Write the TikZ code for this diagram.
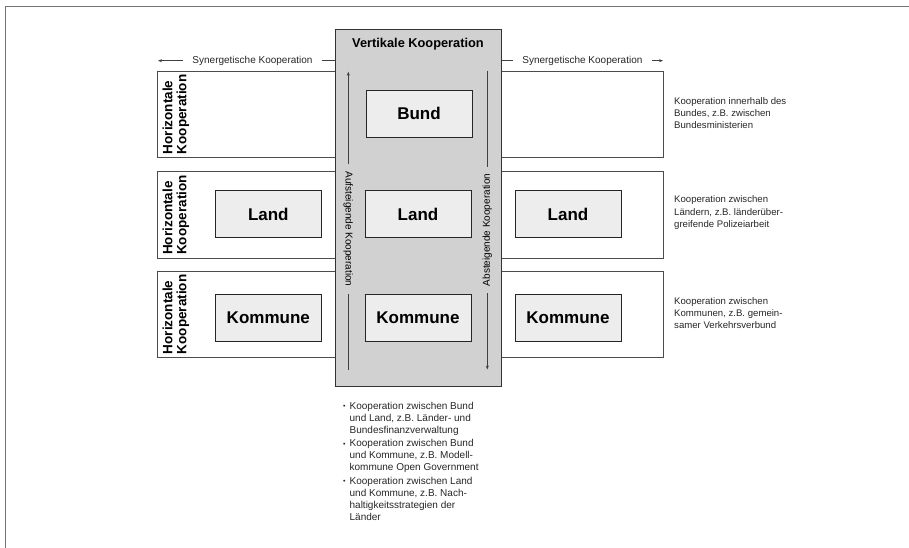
\documentclass[tikz,border=0pt]{standalone}
\usepackage{fontspec}
\setmainfont{Liberation Sans}
\usetikzlibrary{positioning,arrows.meta}
\usepackage{xcolor}
\definecolor{vertgray}{gray}{0.82}
\definecolor{boxgray}{gray}{0.93}
\definecolor{framegray}{gray}{0.45}
\newcommand{\smallbullet}{\raisebox{0.8pt}{\fontsize{7}{12}\selectfont\textbullet}}

\begin{document}
\begin{tikzpicture}[x=1pt,y=-1pt,
  rowbox/.style={draw=black!70, line width=0.8pt, minimum width=506pt, minimum height=86.7pt, inner sep=0pt},
  levelbox/.style={draw=black!85, fill=boxgray, line width=0.9pt, minimum width=106pt,
    minimum height=47pt, inner sep=0pt, font=\fontsize{17}{17}\selectfont\bfseries},
  horlabel/.style={rotate=90, align=left, inner sep=0pt, font=\fontsize{13.5}{14}\selectfont\bfseries},
  synlabel/.style={inner xsep=9pt, inner ysep=0pt, text=black!85, font=\fontsize{10}{12}\selectfont},
  flowlabel/.style={inner xsep=7pt, inner ysep=0pt, font=\fontsize{10}{12}\selectfont},
  desc/.style={anchor=west, align=left, inner sep=0pt, text=black!85, font=\fontsize{9.6}{12.2}\selectfont},
  thinline/.style={draw=black!75, line width=0.6pt},
  tip/.style={thinline, -{Stealth[length=4pt,width=3pt]}}]
\useasboundingbox (0,0) rectangle (909,548);
% page frame, only top and left edge
\draw[framegray, line width=1.3pt] (909,6.5) -- (5.7,6.5) -- (5.7,548);

% the three horizontal bands run right across, the grey column covers their middle
\node[rowbox] (row1) at (410,114.3) {};
\node[rowbox] (row2) at (410,215) {};
\node[rowbox] (row3) at (410,314.3) {};
\node[draw=black!80, fill=vertgray, line width=0.9pt, minimum width=166.5pt, minimum height=356.5pt,
  inner sep=0pt] (vert) at (418.2,208.2) {};
\node[font=\fontsize{12.8}{14}\selectfont\bfseries] (vtitle) at (418,44) {Vertikale Kooperation};

% levels
\node[levelbox] (bund)  at (419,113.5) {Bund};
\node[levelbox] (landL) at (268.3,214) {Land};
\node[levelbox] (landM) at (418,214)   {Land};
\node[levelbox] (landR) at (568,214)   {Land};
\node[levelbox] (komL)  at (268.3,317.5) {Kommune};
\node[levelbox] (komM)  at (418,317.5)   {Kommune};
\node[levelbox] (komR)  at (568,317.5)   {Kommune};

\foreach \y/\i in {114.3/1, 215/2, 314.3/3}
  \node[horlabel] (hor\i) at (176,\y) {Horizontale\\Kooperation};

% synergetic cooperation above the bands
\node[synlabel] (synL) at (252.5,60.7) {Synergetische Kooperation};
\node[synlabel] (synR) at (582.4,60.7) {Synergetische Kooperation};
\coordinate (synLend) at (158,60.7);
\coordinate (synRend) at (663,60.7);
\draw[tip] (synL.west) -- (synLend);
\draw[thinline] (synL.east) -- (vert.west |- synL);
\draw[thinline] (vert.east |- synR) -- (synR.west);
\draw[tip] (synR.east) -- (synRend);

% vertical flows inside the column
\node[flowlabel, rotate=-90] (auf) at (348.3,229) {Aufsteigende Kooperation};
\node[flowlabel, rotate=90]  (ab)  at (487.3,230) {Absteigende Kooperation};
\coordinate (aufTop) at (348.3,71.7);
\coordinate (aufBot) at (348.3,369.5);
\coordinate (abTop) at (487.3,70.7);
\coordinate (abBot) at (487.3,369.5);
\draw[thinline] (aufBot) -- (auf.east);
\draw[tip] (auf.west) -- (aufTop);
\draw[thinline] (abTop) -- (ab.east);
\draw[tip] (ab.west) -- (abBot);

% examples
\node[desc] (desc1) at (674,113) {Kooperation innerhalb des\\Bundes, z.B. zwischen\\Bundesministerien};
\node[desc] (desc2) at (674,212.7) {Kooperation zwischen\\Ländern, z.B. länderüber-\\greifende Polizeiarbeit};
\node[desc] (desc3) at (674,313.3) {Kooperation zwischen\\Kommunen, z.B. gemein-\\samer Verkehrsverbund};
\node[anchor=north west, inner sep=0pt, text=black!85, font=\fontsize{10}{12}\selectfont] (vlist) at (343,401) {%
  \begin{tabular}{@{}l@{\hspace{4pt}}l@{}}
  \smallbullet & Kooperation zwischen Bund\\
   & und Land, z.B. Länder- und\\
   & Bundesfinanzverwaltung\\[1.3pt]
  \smallbullet & Kooperation zwischen Bund\\
   & und Kommune, z.B. Modell-\\
   & kommune Open Government\\[1.3pt]
  \smallbullet & Kooperation zwischen Land\\
   & und Kommune, z.B. Nach-\\
   & haltigkeitsstrategien der\\
   & Länder
  \end{tabular}};
\end{tikzpicture}
\end{document}
